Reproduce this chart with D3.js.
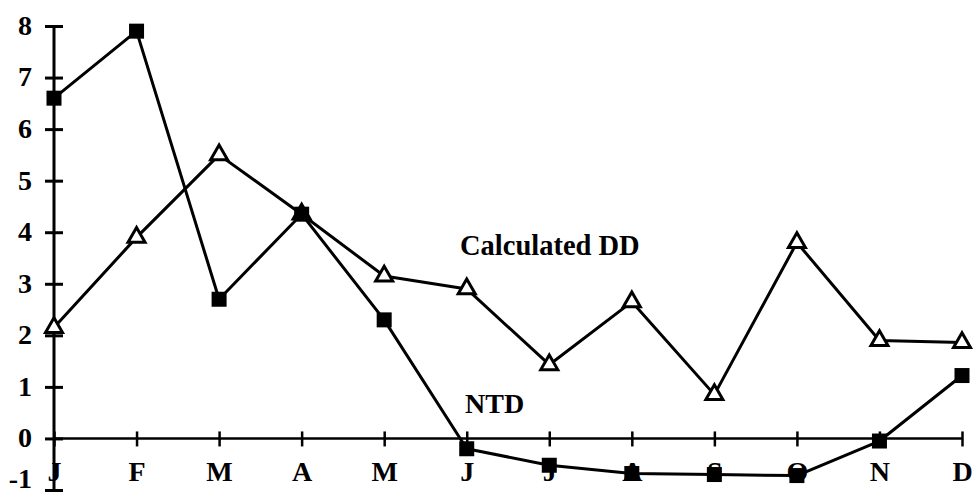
<!DOCTYPE html>
<html>
<head>
<meta charset="utf-8">
<script src="https://cdn.jsdelivr.net/npm/d3@7"></script>
<style>
  html, body { margin: 0; padding: 0; background: #fff; }
  svg { display: block; }
  svg text { font-family: "Liberation Serif", "DejaVu Serif", serif !important; font-weight: bold; fill: #000; }
</style>
</head>
<body>
<svg id="chart" width="975" height="496"></svg>
<script>
// Monthly values, January to December
const months = ["J", "F", "M", "A", "M", "J", "J", "A", "S", "O", "N", "D"];
const ntd = [6.6, 7.9, 2.7, 4.35, 2.3, -0.2, -0.52, -0.68, -0.7, -0.72, -0.05, 1.22];
const calculatedDD = [2.15, 3.9, 5.5, 4.35, 3.15, 2.9, 1.43, 2.65, 0.85, 3.8, 1.9, 1.86];
const yTicks = [-1, 0, 1, 2, 3, 4, 5, 6, 7, 8];
const seriesLabels = ["Calculated DD", "NTD"];

const svg = d3.select("#chart");
const fontSize = 28;
const serif = "'Liberation Serif', 'DejaVu Serif', serif";

const x = d3.scalePoint().domain(d3.range(months.length)).range([54, 962]);
const y = d3.scaleLinear().domain([-1, 8]).range([490, 26]);

// Vertical axis with ticks crossing the line
const yAxis = svg.append("g")
  .attr("transform", `translate(${x(0)},0)`)
  .call(d3.axisLeft(y).tickValues(yTicks).tickSize(9).tickFormat(d => String(d)))
  .attr("font-family", serif);
yAxis.select(".domain").attr("stroke", "#000").attr("stroke-width", 3)
  .attr("d", `M0,${y(-1)}V${y(8)}`);
yAxis.selectAll(".tick line").attr("x1", -9).attr("x2", 9).attr("stroke", "#000").attr("stroke-width", 3);
yAxis.selectAll(".tick text")
  .attr("font-size", fontSize)
  .attr("x", -22)
  .attr("dy", d => d === -1 ? "-0.08em" : "0.3em");

// Horizontal axis along zero
const xAxis = svg.append("g")
  .attr("transform", `translate(0,${y(0)})`)
  .call(d3.axisBottom(x).tickSize(8).tickFormat(i => months[i]))
  .attr("font-family", serif);
xAxis.select(".domain").attr("stroke", "#000").attr("stroke-width", 2.5)
  .attr("d", `M${x(0)},0H${x(11)}`);
xAxis.selectAll(".tick line").attr("y1", -7).attr("y2", 8).attr("stroke", "#000").attr("stroke-width", 2.5);
xAxis.selectAll(".tick text").attr("font-size", fontSize).attr("y", 43).attr("dy", 0);

const line = d3.line().x((d, i) => x(i)).y(d => y(d));

// Series lines
[calculatedDD, ntd].forEach(values => {
  svg.append("path")
    .datum(values)
    .attr("fill", "none")
    .attr("stroke", "#000")
    .attr("stroke-width", 3)
    .attr("stroke-linejoin", "round")
    .attr("d", line);
});

// Open triangle markers for Calculated DD
const tri = d3.symbol().type(d3.symbolTriangle).size(125);
svg.append("g").selectAll("path")
  .data(calculatedDD)
  .join("path")
  .attr("transform", (d, i) => `translate(${x(i)},${y(d)})`)
  .attr("d", tri)
  .attr("fill", "#fff")
  .attr("stroke", "#000")
  .attr("stroke-width", 3);

// Filled square markers for NTD
const sq = 15;
svg.append("g").selectAll("rect")
  .data(ntd)
  .join("rect")
  .attr("x", (d, i) => x(i) - sq / 2)
  .attr("y", d => y(d) - sq / 2)
  .attr("width", sq)
  .attr("height", sq)
  .attr("fill", "#000");

// Series names
svg.append("text").attr("x", 460).attr("y", 255).attr("font-size", 28.5)
  .text(seriesLabels[0]);
svg.append("text").attr("x", 465).attr("y", 413).attr("font-size", fontSize)
  .text(seriesLabels[1]);
</script>
</body>
</html>
